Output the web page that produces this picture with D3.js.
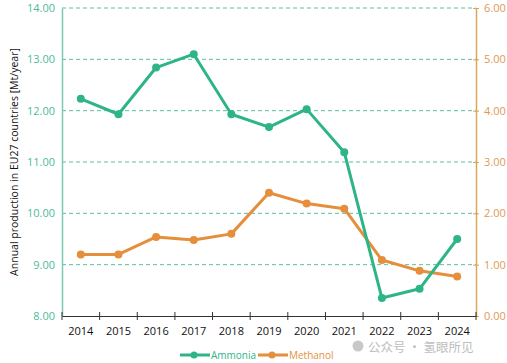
<!DOCTYPE html>
<html>
<head>
<meta charset="utf-8">
<script src="https://cdn.jsdelivr.net/npm/d3@7"></script>
<style>
body { margin: 0; background: #fff; }
text { font-family: "Open Sans", "DejaVu Sans", sans-serif; }
</style>
</head>
<body>
<script>
var years = ["2014","2015","2016","2017","2018","2019","2020","2021","2022","2023","2024"];
var ammonia = [12.23, 11.93, 12.84, 13.10, 11.93, 11.68, 12.03, 11.19, 8.35, 8.53, 9.50];
var methanol = [1.20, 1.20, 1.54, 1.48, 1.60, 2.40, 2.19, 2.09, 1.09, 0.88, 0.77];
var leftTicks = [8, 9, 10, 11, 12, 13, 14];
var rightTicks = [0, 1, 2, 3, 4, 5, 6];

var w = 507, h = 363;
var plotL = 62, plotR = 476, plotT = 8, plotB = 316;
var green = "#2db587", orange = "#e58f3c";

var svg = d3.select("body").append("svg")
    .attr("width", w)
    .attr("height", h);

var x = d3.scaleBand().domain(years).range([plotL, plotR]);
var yL = d3.scaleLinear().domain([8, 14]).range([plotB, plotT]);
var yR = d3.scaleLinear().domain([0, 6]).range([plotB, plotT]);

// grid
svg.append("g").selectAll("line")
    .data(leftTicks.slice(1))
    .enter().append("line")
    .attr("x1", plotL).attr("x2", plotR)
    .attr("y1", function(d){ return yL(d); })
    .attr("y2", function(d){ return yL(d); })
    .style("stroke", "#5cbfa0")
    .style("stroke-width", 1)
    .style("stroke-dasharray", "4,3");

// left axis
var gl = svg.append("g")
    .attr("transform", "translate(" + plotL + ",0)")
    .call(d3.axisLeft(yL).tickValues(leftTicks).tickSize(0).tickPadding(7).tickFormat(d3.format(".2f")));
gl.select(".domain").style("stroke", "#7cc8b2").style("stroke-width", 1.5);
gl.selectAll("text").style("fill", "#4dbb9a").style("font-size", "11px");

// right axis
var gr = svg.append("g")
    .attr("transform", "translate(" + plotR + ",0)")
    .call(d3.axisRight(yR).tickValues(rightTicks).tickSize(0).tickPadding(8).tickFormat(d3.format(".2f")));
gr.select(".domain").style("stroke", "#d9a65a").style("stroke-width", 1.5);
gr.selectAll("text").style("fill", "#dc9a55").style("font-size", "11px");
gr.selectAll(".tick").append("line")
    .attr("x1", -3).attr("x2", 3)
    .style("stroke", "#d9a65a");

// bottom axis
var gb = svg.append("g")
    .attr("transform", "translate(0," + plotB + ")")
    .call(d3.axisBottom(x).tickSize(0).tickPadding(11));
gb.select(".domain").style("stroke", "#333").style("stroke-width", 1.2);
gb.selectAll("text").style("fill", "#111").style("font-size", "11px");
var bounds = years.map(function(d){ return x(d); }).concat([plotR]);
gb.append("g").selectAll("line")
    .data(bounds)
    .enter().append("line")
    .attr("x1", function(d){ return d; })
    .attr("x2", function(d){ return d; })
    .attr("y1", -4).attr("y2", 4)
    .style("stroke", "#333");

// y title
svg.append("text")
    .attr("transform", "translate(18," + ((plotT + plotB) / 2) + ") rotate(-90)")
    .attr("text-anchor", "middle")
    .style("font-size", "10.5px")
    .style("fill", "#111")
    .text("Annual production in EU27 countries [Mt/year]");

function cx(d, i){ return x(years[i]) + x.bandwidth() / 2; }

function drawSeries(vals, scale, color){
    var line = d3.line()
        .x(function(d, i){ return cx(d, i); })
        .y(function(d){ return scale(d); });
    svg.append("path")
        .datum(vals)
        .attr("d", line)
        .style("fill", "none")
        .style("stroke", color)
        .style("stroke-width", 3)
        .style("stroke-linejoin", "round");
    svg.append("g").selectAll("circle")
        .data(vals)
        .enter().append("circle")
        .attr("cx", cx)
        .attr("cy", function(d){ return scale(d); })
        .attr("r", 4)
        .style("fill", color);
}

drawSeries(methanol, yR, orange);
drawSeries(ammonia, yL, green);

// legend
var legend = [
    {name: "Ammonia", color: green, x: 180},
    {name: "Methanol", color: orange, x: 258}
];
var lg = svg.append("g").selectAll("g")
    .data(legend)
    .enter().append("g")
    .attr("transform", function(d){ return "translate(" + d.x + ",355)"; });
lg.append("line")
    .attr("x1", 0).attr("x2", 30)
    .style("stroke", function(d){ return d.color; })
    .style("stroke-width", 3);
lg.append("circle")
    .attr("cx", 14).attr("r", 3.5)
    .style("fill", function(d){ return d.color; });
lg.append("text")
    .attr("x", 31).attr("y", 4)
    .style("font-size", "10px")
    .style("fill", function(d){ return d.color; })
    .text(function(d){ return d.name; });

// watermark
svg.append("circle").attr("cx", 358).attr("cy", 346).attr("r", 5.5).style("fill", "#c8c8c8");
svg.append("text")
    .attr("x", 368).attr("y", 352)
    .style("font-family", "Noto Sans CJK SC")
    .style("font-size", "12.5px")
    .style("fill", "#bdbdbd")
    .text("公众号 · 氢眼所见");
</script>
</body>
</html>
